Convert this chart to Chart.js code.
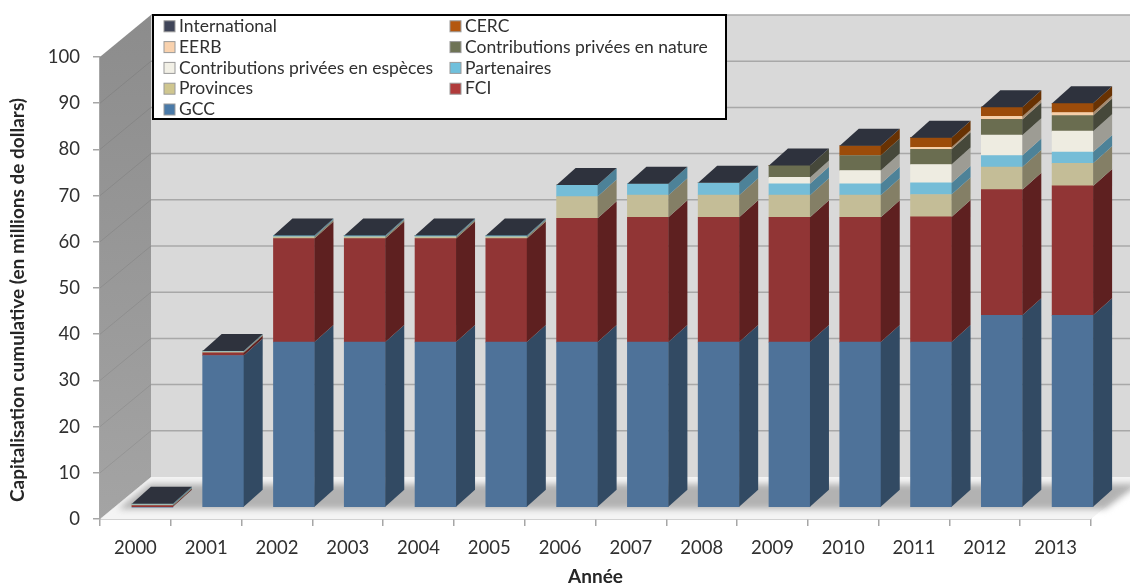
<!DOCTYPE html>
<html lang="fr">
<head>
<meta charset="utf-8">
<title>Capitalisation cumulative</title>
<script src="https://cdn.jsdelivr.net/npm/chart.js@4"></script>
<style>
  body { margin: 0; background: #fff; }
  canvas { display: block; filter: blur(0.4px); }
</style>
</head>
<body>
<canvas id="myChart" width="1130" height="584"></canvas>
<script>
var years = ['2000','2001','2002','2003','2004','2005','2006','2007','2008','2009','2010','2011','2012','2013'];

// values (millions de dollars)
var gcc           = [0, 32.9, 35.8, 35.8, 35.8, 35.8, 35.8, 35.8, 35.8, 35.8, 35.8, 35.8, 41.6, 41.6];
var fci           = [0.4, 0.6, 22.4, 22.4, 22.4, 22.4, 26.8, 27.0, 27.0, 27.0, 27.0, 27.1, 27.2, 28.0];
var provinces     = [0.2, 0.2, 0.4, 0.4, 0.4, 0.4, 4.7, 4.8, 4.8, 4.8, 4.8, 4.85, 4.9, 4.9];
var partenaires   = [0.2, 0.2, 0.3, 0.3, 0.3, 0.3, 2.5, 2.5, 2.7, 2.45, 2.45, 2.5, 2.5, 2.45];
var especes       = [0, 0, 0, 0, 0, 0, 0, 0, 0, 1.4, 2.9, 4.0, 4.4, 4.5];
var nature        = [0, 0, 0, 0, 0, 0, 0, 0, 0, 2.6, 3.25, 3.3, 3.4, 3.4];
var eerb          = [0, 0, 0, 0, 0, 0, 0, 0, 0, 0, 0, 0.4, 0.65, 0.65];
var cerc          = [0, 0, 0, 0, 0, 0, 0, 0, 0, 0, 2.1, 2.1, 2.0, 2.0];
var international = [0, 0, 0, 0, 0, 0, 0, 0, 0, 0, 0, 0, 0, 0];

var seriesNames  = ['GCC', 'FCI', 'Provinces', 'Partenaires', 'Contributions privées en espèces', 'Contributions privées en nature', 'EERB', 'CERC', 'International'];
var seriesValues = [gcc, fci, provinces, partenaires, especes, nature, eerb, cerc, international];
var frontColors  = ['#4e7299', '#913535', '#c4bd97', '#75bdd7', '#eeece1', '#6a6d50', '#f6cfa8', '#9c4c0a', '#3a3f4e'];
var sideColors   = ['#324a63', '#5e2020', '#847f66', '#4d8298', '#9d9c94', '#46483a', '#a58b70', '#683203', '#2e323d'];
var swatchColors = ['#4a7aa8', '#b03a3a', '#cfc68f', '#6fc0dc', '#f2f0e6', '#6e7355', '#f9d2ae', '#b4570f', '#404559'];
var topColor = '#2e323d';
var fontName = 'Lato, "Noto Sans", sans-serif';

// 3D look: walls sit behind the axes, bars halfway on the floor
var wallDx = 51, wallDy = -42;
var barDx = 17, barDy = -11.5;
var sideDx = 19, sideDy = -17;

function poly(ctx, pts, fill) {
    ctx.beginPath();
    ctx.moveTo(pts[0][0], pts[0][1]);
    for (var i = 1; i < pts.length; i++) ctx.lineTo(pts[i][0], pts[i][1]);
    ctx.closePath();
    ctx.fillStyle = fill;
    ctx.fill();
}

var scene3d = {
    id: 'scene3d',
    beforeDatasetsDraw: function (chart) {
        var ctx = chart.ctx, area = chart.chartArea, y = chart.scales.y;
        var l = area.left, r = area.right, t = area.top, b = area.bottom;

        ctx.save();
        // back wall
        poly(ctx, [[l + wallDx, t + wallDy], [r + wallDx, t + wallDy], [r + wallDx, b + wallDy], [l + wallDx, b + wallDy]], '#d9d9d9');
        // left wall
        var g = ctx.createLinearGradient(0, t + wallDy, 0, b);
        g.addColorStop(0, '#8c8c8c');
        g.addColorStop(1, '#a4a4a4');
        poly(ctx, [[l, t], [l + wallDx, t + wallDy], [l + wallDx, b + wallDy], [l, b]], g);
        // floor with its soft shadow
        poly(ctx, [[l, b], [l + wallDx, b + wallDy], [r + wallDx, b + wallDy], [r, b]], '#f4f4f4');
        ctx.save();
        ctx.filter = 'blur(3px)';
        poly(ctx, [[l + 18, b - 10], [l + 50, b + wallDy + 7], [r + 48, b + wallDy + 7], [r + 14, b - 10]], '#b2b2b2');
        ctx.restore();

        // gridlines along both walls
        y.ticks.forEach(function (tick) {
            var py = y.getPixelForValue(tick.value);
            ctx.strokeStyle = 'rgba(0,0,0,0.08)';
            ctx.lineWidth = 1;
            ctx.beginPath();
            ctx.moveTo(l, py);
            ctx.lineTo(l + wallDx, py + wallDy);
            ctx.stroke();
            if (tick.value > 0) {
                ctx.strokeStyle = '#a8a8a8';
                ctx.lineWidth = 1.5;
                ctx.beginPath();
                ctx.moveTo(l + wallDx, py + wallDy);
                ctx.lineTo(r + wallDx, py + wallDy);
                ctx.stroke();
            }
        });
        ctx.restore();

        // the bars themselves are drawn by Chart.js in this shifted frame
        ctx.save();
        ctx.translate(barDx, barDy);
    },
    afterDatasetsDraw: function (chart) {
        var ctx = chart.ctx, y = chart.scales.y;
        chart.data.datasets.forEach(function (ds, d) {
            chart.getDatasetMeta(d).data.forEach(function (bar, i) {
                if (!ds.data[i]) return;
                var right = bar.x + bar.width / 2;
                poly(ctx, [[right, bar.y], [right + sideDx, bar.y + sideDy], [right + sideDx, bar.base + sideDy], [right, bar.base]], sideColors[d]);
            });
        });
        // dark lid on each stack
        var first = chart.getDatasetMeta(0).data;
        years.forEach(function (yr, i) {
            var sum = 0;
            seriesValues.forEach(function (s) { sum += s[i]; });
            var py = y.getPixelForValue(sum);
            var left = first[i].x - first[i].width / 2, right = first[i].x + first[i].width / 2;
            poly(ctx, [[left, py], [left + sideDx, py + sideDy], [right + sideDx, py + sideDy], [right, py]], topColor);
        });
        ctx.restore();
    },
    afterDraw: function (chart) {
        var ctx = chart.ctx;
        ctx.save();

        // y axis title
        ctx.save();
        ctx.translate(18, 300);
        ctx.rotate(-Math.PI / 2);
        ctx.font = 'bold 19px ' + fontName;
        ctx.fillStyle = '#262626';
        ctx.textAlign = 'center';
        ctx.textBaseline = 'middle';
        ctx.fillText('Capitalisation cumulative (en millions de dollars)', 0, 0);
        ctx.restore();

        // legend box: two columns, reversed series order
        ctx.fillStyle = '#fff';
        ctx.fillRect(153, 15, 573, 104);
        ctx.strokeStyle = '#000';
        ctx.lineWidth = 2;
        ctx.strokeRect(153, 15, 573, 104);
        ctx.font = '17.5px ' + fontName;
        ctx.textBaseline = 'middle';
        ctx.textAlign = 'left';
        for (var n = 0; n < seriesNames.length; n++) {
            var d = seriesNames.length - 1 - n;
            var col = n % 2, row = Math.floor(n / 2);
            var sx = col ? 450 : 164, cy = 26.3 + row * 20.8;
            ctx.fillStyle = swatchColors[d];
            ctx.fillRect(sx, cy - 5.5, 11, 11);
            ctx.strokeStyle = '#9a9a9a';
            ctx.lineWidth = 1;
            ctx.strokeRect(sx, cy - 5.5, 11, 11);
            ctx.fillStyle = '#303030';
            ctx.fillText(seriesNames[d], sx + 15, cy);
        }
        ctx.restore();
    }
};

var ctx = document.getElementById('myChart').getContext('2d');

var myChart = new Chart(ctx, {
    type: 'bar',
    data: {
        labels: years,
        datasets: seriesNames.map(function (name, i) {
            return {
                label: name,
                data: seriesValues[i],
                backgroundColor: frontColors[i],
                borderWidth: 0,
                barThickness: 41,
                clip: false
            };
        })
    },
    plugins: [scene3d],
    options: {
        responsive: false,
        animation: false,
        layout: { padding: { top: 57, right: 39, bottom: 0, left: 0 } },
        plugins: {
            legend: { display: false },
            tooltip: { enabled: false }
        },
        scales: {
            x: {
                stacked: true,
                afterFit: function (scale) { scale.height = 65; },
                grid: { drawOnChartArea: false, color: '#a6a6a6', tickLength: 7, lineWidth: 1.5 },
                border: { color: '#a6a6a6', width: 1.5 },
                ticks: { color: '#303030', font: { family: fontName, size: 18.5 }, padding: 11, maxRotation: 0 },
                title: {
                    display: true,
                    text: 'Année',
                    color: '#262626',
                    font: { family: fontName, size: 19, weight: 'bold', lineHeight: 1 },
                    padding: { top: 0, bottom: -2 }
                }
            },
            y: {
                stacked: true,
                min: 0,
                max: 100,
                afterFit: function (scale) { scale.width = 100; },
                grid: { drawOnChartArea: false, color: '#a6a6a6', tickLength: 7, lineWidth: 1.5 },
                border: { color: '#a6a6a6', width: 1.5 },
                ticks: { stepSize: 10, color: '#303030', font: { family: fontName, size: 18.5 }, padding: 13 }
            }
        }
    }
});
</script>
</body>
</html>
